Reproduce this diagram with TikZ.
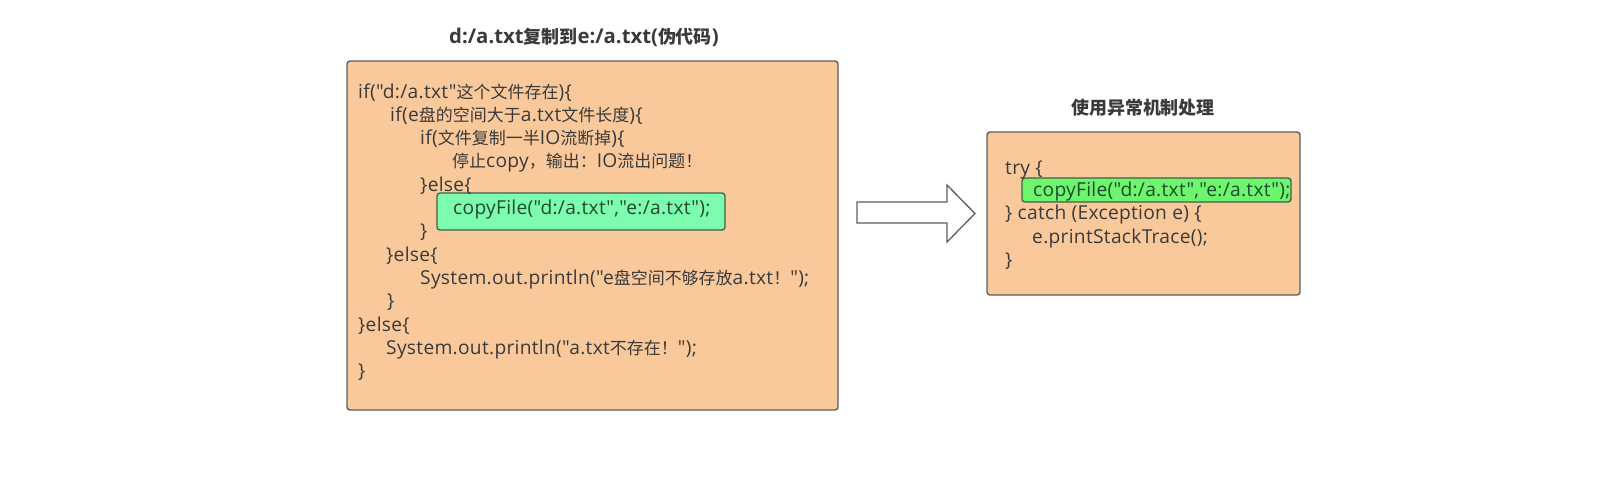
\documentclass[tikz,border=0pt]{standalone}
\usepackage{fontspec}
\setmainfont{Open Sans}[Ligatures=TeXOff,LetterSpace=1.5]
\newfontfamily\ttlfont{Open Sans}[Ligatures=TeXOff]
\newfontfamily\cjk{Noto Sans CJK SC}[Ligatures=TeXOff,Scale=0.885]
\newcommand\C[1]{{\cjk #1}}
\definecolor{boxfill}{HTML}{F9C99B}
\definecolor{boxline}{HTML}{5E5E5E}
\definecolor{mint}{HTML}{7DFCB0}
\definecolor{lgreen}{HTML}{6EF56E}
\definecolor{gline}{HTML}{3F5F45}
\definecolor{txt}{HTML}{3A3A3A}
\definecolor{gtxt}{HTML}{1F4A2C}
\begin{document}
\begin{tikzpicture}[x=1pt,y=-1pt,
  codebox/.style={draw=boxline,fill=boxfill,line width=1.4pt,rounded corners=3pt},
  hlbox/.style={draw=gline,line width=1.3pt,rounded corners=3pt},
  code/.style={anchor=base west,inner sep=0pt,text=txt,font=\fontsize{19.2}{22}\selectfont},
  gcode/.style={code,text=gtxt},
  ttl/.style={anchor=center,inner sep=0pt,text=txt,font=\ttlfont\fontsize{20.3}{22}\selectfont\bfseries}]
\useasboundingbox (0,0) rectangle (1610,477);
\fill[white] (0,0) rectangle (1610,477);
% left box
\draw[codebox] (347,61) rectangle (838,410);
\node[ttl] (t1) at (584,37) {d:/a.txt\C{复制到}e:/a.txt(\C{伪代码})};
\draw[hlbox,fill=mint] (437,193) rectangle (725,230);
\node[code] (l1)  at (358,98)    {if("d:/a.txt"\C{这个文件存在})\{};
\node[code] (l2)  at (390,121.3) {if(e\C{盘的空间大于}a.txt\C{文件长度})\{};
\node[code] (l3)  at (420,144.6) {if(\C{文件复制一半}IO\C{流断掉})\{};
\node[code] (l4)  at (452,167.9) {\C{停止}copy\C{，输出：}IO\C{流出问题！}};
\node[code] (l5)  at (420,191.2) {\}else\{};
\node[gcode] (l6) at (453,214.5) {copyFile("d:/a.txt","e:/a.txt");};
\node[code] (l7)  at (420,237.8) {\}};
\node[code] (l8)  at (386,261.1) {\}else\{};
\node[code] (l9)  at (420,284.4) {System.out.println("e\C{盘空间不够存放}a.txt\C{！}");};
\node[code] (l10) at (387,307.7) {\}};
\node[code] (l11) at (358,331)   {\}else\{};
\node[code] (l12) at (386,354.3) {System.out.println("a.txt\C{不存在！}");};
\node[code] (l13) at (358,377.6) {\}};
% arrow
\draw[boxline,line width=1.3pt,fill=white,line join=miter]
  (857,202) -- (947,202) -- (947,185) -- (975,213.5) -- (947,242) -- (947,223) -- (857,223) -- cycle;
% right box
\draw[codebox] (987,132) rectangle (1300,295);
\node[ttl] (t2) at (1143,108) {\C{使用异常机制处理}};
\draw[hlbox,fill=lgreen] (1022,178) rectangle (1291,202);
\node[code] (r1) at (1005,174)   {try \{};
\node[gcode] (r2) at (1033,196.5) {copyFile("d:/a.txt","e:/a.txt");};
\node[code] (r3) at (1005,219.5) {\} catch (Exception e) \{};
\node[code] (r4) at (1032,243)   {e.printStackTrace();};
\node[code] (r5) at (1005,266.5) {\}};
\end{tikzpicture}
\end{document}
